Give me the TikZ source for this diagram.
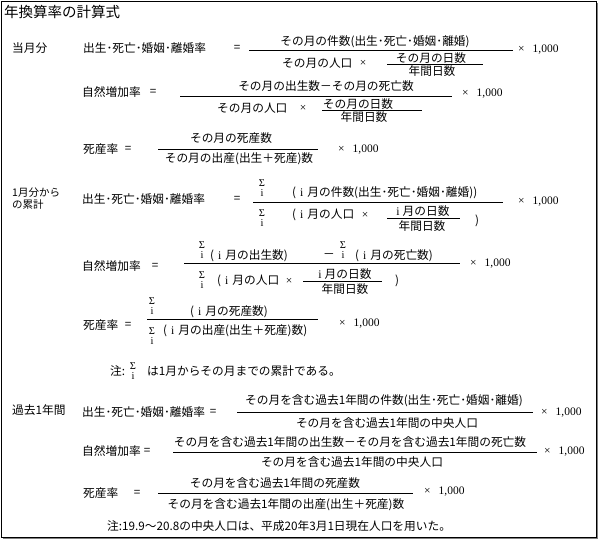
\documentclass[tikz,border=0pt]{standalone}
\usepackage{fontspec}
\setmainfont{Liberation Serif}
\newfontfamily\jp{Noto Sans CJK JP}
\usetikzlibrary{positioning}
\newcommand{\jpbody}{\jp\fontsize{11.7}{13}\selectfont}
\newcommand{\imon}{(\hspace{4pt}{\rmfamily i}\hspace{4pt}}
\tikzset{jp/.style={font=\jpbody, inner sep=0pt},
  sig/.style={font=\fontsize{10.5}{11}\selectfont, inner sep=0pt},
  num/.style={font=\fontsize{11.5}{13}\selectfont, inner sep=0pt},
  bar/.style={line width=0.9pt}}
\newcommand{\jpleft}[3] {\node at (#1) (#2) [jp, anchor=west] {#3};}
\newcommand{\jpmid}[3] {\node at (#1) (#2) [jp] {#3};}
\newcommand{\fracbar}[3] {\coordinate (#1l) at (#2); \coordinate (#1r) at (#3); \draw [bar] (#1l) -- (#1r);}
\newcommand{\sumover}[2] {\node at (#1) (#2) [sig] {Σ}; \node [sig, below=3pt of #2] (#2i) {i};}
\newcommand{\permille}[2] {\node at (#1) (#2) [num, anchor=west] {×\hspace{8pt}1,000};}
\newcommand{\timesat}[2] {\node at (#1) (#2) [num] {×};}

\begin{document}
\begin{tikzpicture}[x=1pt,y=-1pt]
\useasboundingbox (0,0) rectangle (600,542);
\fill [black!50] (3,3) rectangle (598,539);
\draw [fill=white, line width=1pt] (1,1) rectangle (596,537);

\node at (4,12) (title) [jp, anchor=west, font=\jp\fontsize{14.5}{16}\selectfont] {年換算率の計算式};

\jpleft {12,48} {sec1} {当月分};

\jpleft {83,48} {lab11} {出生･死亡･婚姻･離婚率};
\jpmid {237,48} {eq11} {=};
\fracbar {f11} {249,50} {513,50};
\jpmid {375,42} {num11} {その月の件数(出生･死亡･婚姻･離婚)};
\jpleft {282,63} {den11} {その月の人口};
\timesat {363,63} {x11};
\jpmid {431,58} {sn11} {その月の日数};
\fracbar {s11} {387,64} {483,64};
\jpmid {432,71} {sd11} {年間日数};
\permille {518,50} {k11};

\jpleft {82,92} {lab12} {自然増加率};
\jpmid {153,92} {eq12} {=};
\fracbar {f12} {180,96} {452,96};
\jpmid {326,86} {num12} {その月の出生数－その月の死亡数};
\jpleft {217,108} {den12} {その月の人口};
\timesat {303,108} {x12};
\jpmid {358,104} {sn12} {その月の日数};
\fracbar {s12} {322,110} {422,110};
\jpmid {364,117} {sd12} {年間日数};
\permille {462,94} {k12};

\jpleft {83,149} {lab13} {死産率};
\jpmid {128,149} {eq13} {=};
\fracbar {f13} {158,149} {318,149};
\jpmid {231,138} {num13} {その月の死産数};
\jpmid {239,159} {den13} {その月の出産(出生＋死産)数};
\permille {338,150} {k13};

\node at (12,193) (sec2a) [jp, anchor=west, font=\jp\fontsize{10.5}{12}\selectfont] {1月分から};
\node at (12,205) (sec2b) [jp, anchor=west, font=\jp\fontsize{10.5}{12}\selectfont] {の累計};

\jpleft {82,199} {lab21} {出生･死亡･婚姻･離婚率};
\jpmid {237,199} {eq21} {=};
\fracbar {f21} {253,202} {503,202};
\sumover {262,183} {sn21};
\jpleft {292,193} {num21} {\imon 月の件数(出生･死亡･婚姻･離婚))};
\sumover {262,213} {sd21};
\jpleft {292,215} {den21} {\imon 月の人口};
\timesat {365,215} {x21};
\jpmid {423,211} {tn21} {{\rmfamily i}\hspace{3pt}月の日数};
\fracbar {s21} {387,218} {460,218};
\jpmid {422,226} {td21} {年間日数};
\jpmid {477,221} {rp21} {)};
\permille {518,202} {k21};

\jpleft {82,266} {lab22} {自然増加率};
\jpmid {155,266} {eq22} {=};
\fracbar {f22} {184,263} {460,263};
\sumover {202,245} {sna22};
\jpleft {210,256} {numa22} {\imon 月の出生数)};
\jpmid {329,256} {mi22} {－};
\sumover {343,245} {snb22};
\jpleft {355,256} {numb22} {\imon 月の死亡数)};
\sumover {202,275} {sd22};
\jpleft {217,281} {den22} {\imon 月の人口};
\timesat {289,281} {x22};
\jpmid {345,274} {tn22} {{\rmfamily i}\hspace{3pt}月の日数};
\fracbar {s22} {303,281} {382,281};
\jpmid {345,289} {td22} {年間日数};
\jpmid {397,281} {rp22} {)};
\permille {470,264} {k22};

\sumover {152,301} {sn23};
\jpleft {190,312} {num23} {\imon 月の死産数)};
\jpleft {83,325} {lab23} {死産率};
\jpmid {128,325} {eq23} {=};
\fracbar {f23} {147,319} {318,319};
\sumover {152,331} {sd23};
\jpleft {163,331} {den23} {\imon 月の出産(出生＋死産)数)};
\permille {339,324} {k23};

\jpleft {110,371} {nt1a} {注:};
\sumover {133,366} {nt1s};
\jpleft {147,371} {nt1b} {は1月からその月までの累計である。};

\jpleft {12,410} {sec3} {過去1年間};

\jpleft {82,412} {lab31} {出生･死亡･婚姻･離婚率};
\jpmid {213,412} {eq31} {=};
\fracbar {f31} {237,412} {533,412};
\jpmid {384,401} {num31} {その月を含む過去1年間の件数(出生･死亡･婚姻･離婚)};
\jpmid {387,423} {den31} {その月を含む過去1年間の中央人口};
\permille {541,413} {k31};

\jpleft {82,451} {lab32} {自然増加率};
\jpmid {147,451} {eq32} {=};
\fracbar {f32} {173,452} {537,452};
\jpmid {350,442} {num32} {その月を含む過去1年間の出生数－その月を含む過去1年間の死亡数};
\jpmid {352,462} {den32} {その月を含む過去1年間の中央人口};
\permille {544,452} {k32};

\jpleft {83,493} {lab33} {死産率};
\jpmid {137,493} {eq33} {=};
\fracbar {f33} {158,493} {413,493};
\jpmid {275,483} {num33} {その月を含む過去1年間の死産数};
\jpmid {286,505} {den33} {その月を含む過去1年間の出産(出生＋死産)数};
\permille {424,492} {k33};

\jpleft {107,526} {nt2} {注:19.9～20.8の中央人口は、平成20年3月1日現在人口を用いた。};
\end{tikzpicture}
\end{document}
